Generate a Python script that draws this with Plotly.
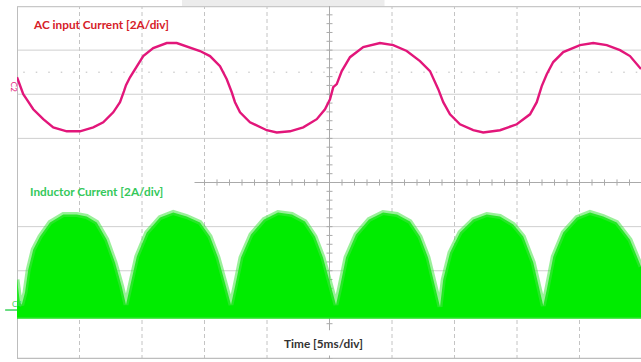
import plotly.graph_objects as go

# ---------------- data ----------------
# AC input current (channel C2), time in ms, current in A
ac_t = [0.00, 0.24, 0.50, 0.78, 1.30, 2.10, 2.90, 3.98, 5.04, 6.10, 6.90, 7.70, 8.24, 8.56,
        8.72, 9.04, 9.58, 10.10, 10.90, 11.98, 12.78, 13.58, 14.64, 15.44, 16.24, 16.78,
        17.04, 17.18, 17.44, 17.84, 18.64, 19.98, 20.78, 21.84, 22.90, 23.98, 24.64, 25.04,
        25.30, 25.58, 25.98, 26.64, 27.70, 29.04, 30.10, 31.18, 32.24, 33.04, 33.70, 34.10,
        34.64, 35.44, 36.50, 37.30, 38.64, 39.98, 41.04, 41.58, 41.98, 42.38, 42.90, 43.70,
        45.04, 46.10, 47.18, 48.24, 49.04, 49.92]
ac_i = [0.45, 0.05, -0.32, -0.55, -1.00, -1.45, -1.82, -2.00, -2.00, -1.82, -1.59, -1.14,
        -0.68, -0.18, 0.09, 0.45, 0.95, 1.41, 1.77, 2.00, 2.00, 1.86, 1.64, 1.41, 0.95, 0.36,
        0.00, -0.23, -0.68, -1.14, -1.59, -1.95, -2.05, -2.00, -1.82, -1.45, -1.00, -0.55,
        0.00, 0.14, 0.73, 1.36, 1.82, 2.00, 1.91, 1.64, 1.18, 0.73, -0.09, -0.68, -1.23,
        -1.68, -1.95, -2.05, -1.95, -1.68, -1.23, -0.68, 0.05, 0.59, 1.14, 1.59, 1.91, 2.00,
        1.91, 1.68, 1.41, 0.82]

# Inductor current (channel C4): upper envelope of the switching ripple, time in ms, A
ind_t = [0.00, 0.24, 0.38, 0.64, 0.90, 1.30, 1.84, 2.64, 3.70, 4.78, 5.58, 6.38, 7.18, 7.84,
         8.38, 8.72, 9.04, 9.58, 10.38, 11.44, 12.50, 13.58, 14.64, 15.44, 16.08, 16.64,
         17.12, 17.44, 17.92, 18.72, 19.76, 20.88, 22.00, 23.04, 23.84, 24.48, 25.04, 25.52,
         25.84, 26.32, 27.12, 28.16, 29.28, 30.40, 31.44, 32.24, 32.88, 33.44, 33.84, 34.10,
         34.64, 35.44, 36.50, 37.58, 38.64, 39.70, 40.50, 41.30, 41.84, 42.10, 42.38, 42.90,
         43.70, 44.78, 45.84, 46.90, 47.98, 49.04, 49.92]
ind_i = [1.14, 0.09, 0.00, 0.55, 1.59, 2.50, 3.09, 3.73, 4.09, 4.09, 4.00, 3.73, 2.95, 1.91,
         0.82, 0.00, 0.82, 2.18, 3.27, 3.95, 4.18, 4.00, 3.73, 3.09, 2.14, 0.91, 0.00, 0.82,
         2.14, 3.18, 3.86, 4.18, 4.09, 3.77, 3.09, 2.14, 0.91, 0.00, 0.82, 2.14, 3.18, 3.86,
         4.18, 4.09, 3.77, 3.09, 2.14, 0.91, -0.09, 1.14, 2.36, 3.27, 3.86, 4.09, 4.00, 3.64,
         3.09, 1.91, 0.68, -0.05, 0.68, 2.18, 3.27, 3.95, 4.18, 4.00, 3.73, 2.95, 1.73]
ind_floor = -0.6  # A, bottom of the ripple band

# scope settings
MS_PER_DIV = 5.0
A_PER_DIV = 2.0
AC_ZERO_DIV = 2.16     # channel C2 ground level, divisions from centre
IND_ZERO_DIV = -2.77   # channel C4 ground level
N_HDIV = 9.984
N_VDIV = 8

ac_y = [AC_ZERO_DIV + v / A_PER_DIV for v in ac_i]
ind_y = [IND_ZERO_DIV + v / A_PER_DIV for v in ind_i]
floor_y = [IND_ZERO_DIV + ind_floor / A_PER_DIV for _ in ind_t]

T_END = N_HDIV * MS_PER_DIV
MAGENTA = "rgb(226,22,122)"
GREEN = "rgb(0,236,0)"

fig = go.Figure()
fig.add_trace(go.Scatter(x=ind_t, y=floor_y, mode="lines",
                         line=dict(color="rgba(40,230,40,0.8)", width=2), hoverinfo="skip"))
fig.add_trace(go.Scatter(x=ind_t, y=ind_y, mode="lines", fill="tonexty", fillcolor=GREEN,
                         line=dict(color="rgba(70,228,70,0.55)", width=5), hoverinfo="skip"))
fig.add_trace(go.Scatter(x=ac_t, y=ac_y, mode="lines", line=dict(color=MAGENTA, width=2.4),
                         hoverinfo="skip"))

shapes = []
GRID = "#c4c4c4"
# vertical dashed grid
for k in range(1, 10):
    shapes.append(dict(type="line", xref="x", yref="y", x0=k * MS_PER_DIV, x1=k * MS_PER_DIV,
                       y0=-4, y1=4, layer="below",
                       line=dict(color=GRID, width=1, dash="4px,3px")))
# horizontal solid grid
for k in [-3, -2, -1, 1, 2, 3]:
    shapes.append(dict(type="line", xref="x", yref="y", x0=0, x1=T_END, y0=k, y1=k,
                       layer="below", line=dict(color="#cfcfcf", width=1)))
# frame
shapes.append(dict(type="line", xref="x", yref="y", x0=0.02, x1=0.02, y0=-4, y1=4, layer="below",
                   line=dict(color="#bdbdbd", width=1.5)))
shapes.append(dict(type="line", xref="x", yref="y", x0=0, x1=T_END, y0=-3.99, y1=-3.99,
                   layer="below", line=dict(color="#bdbdbd", width=1.5)))
shapes.append(dict(type="line", xref="x", yref="y", x0=0, x1=T_END, y0=3.99, y1=3.99,
                   layer="below", line=dict(color="#c8c8c8", width=1.5)))
# dotted level line
shapes.append(dict(type="line", xref="x", yref="y", x0=0.5, x1=T_END, y0=2.5, y1=2.5,
                   layer="below", line=dict(color="#bbbbbb", width=1, dash="1.5px,11px")))
# centre axes with minor ticks
AX = "#aaaaaa"
xc = 5 * MS_PER_DIV
shapes.append(dict(type="line", xref="x", yref="y", x0=14.2, x1=T_END, y0=0, y1=0,
                   layer="below", line=dict(color=AX, width=1)))
shapes.append(dict(type="line", xref="x", yref="y", x0=xc, x1=xc, y0=-4, y1=4,
                   layer="below", line=dict(color=AX, width=1)))
path = ""
tk = 15.0
while tk < T_END:
    path += f"M{tk},-0.07 L{tk},0.07 "
    tk += MS_PER_DIV / 5
yk = -4.0
while yk <= 4.0:
    path += f"M{xc - 0.24},{yk:.2f} L{xc + 0.24},{yk:.2f} "
    yk += 0.2
shapes.append(dict(type="path", xref="x", yref="y", path=path, layer="below",
                   line=dict(color=AX, width=1)))
# white box behind the time label
shapes.append(dict(type="rect", xref="x", yref="y", x0=21.0, x1=28.2, y0=-3.92, y1=-3.35,
                   layer="below", fillcolor="white", line=dict(width=0)))
# light band above the screen
shapes.append(dict(type="rect", xref="x", yref="paper", x0=13.2, x1=29.4, y0=1.0, y1=1.02,
                   fillcolor="#ececec", line=dict(width=0)))
# C4 ground marker
shapes.append(dict(type="line", xref="paper", yref="y", x0=-0.019, x1=0.0,
                   y0=IND_ZERO_DIV - 0.12, y1=IND_ZERO_DIV - 0.12,
                   line=dict(color="rgb(60,210,90)", width=1.5)))

FONT = "Lato, 'Open Sans', sans-serif"
annotations = [
    dict(text="<b>AC input Current [2A/div]</b>", xref="x", yref="y", x=6.70, y=3.59,
         showarrow=False, font=dict(family=FONT, size=11.8, color="rgb(214,32,40)")),
    dict(text="<b>Inductor Current [2A/div]</b>", xref="x", yref="y", x=6.32, y=-0.20,
         showarrow=False, font=dict(family=FONT, size=11.8, color="rgb(52,200,90)")),
    dict(text="<b>Time [5ms/div]</b>", xref="x", yref="y", x=24.52, y=-3.64,
         showarrow=False, font=dict(family=FONT, size=11.8, color="#333333")),
    dict(text="C2", xref="paper", yref="y", x=-0.017, y=AC_ZERO_DIV, textangle=90,
         showarrow=False, font=dict(family=FONT, size=8, color=MAGENTA)),
    dict(text="C4", xref="paper", yref="y", x=-0.012, y=IND_ZERO_DIV + 0.02,
         showarrow=False, font=dict(family=FONT, size=8, color="rgb(60,210,90)")),
]

fig.update_layout(
    width=641, height=362,
    margin=dict(l=17, r=0, t=6, b=3),
    paper_bgcolor="white", plot_bgcolor="white",
    showlegend=False,
    shapes=shapes, annotations=annotations,
    xaxis=dict(range=[0, T_END], visible=False, showgrid=False, zeroline=False),
    yaxis=dict(range=[-N_VDIV / 2, N_VDIV / 2], visible=False, showgrid=False, zeroline=False),
)

fig.write_html("out.html", config={"displayModeBar": False},
               post_script="document.body.style.margin='0px';")
